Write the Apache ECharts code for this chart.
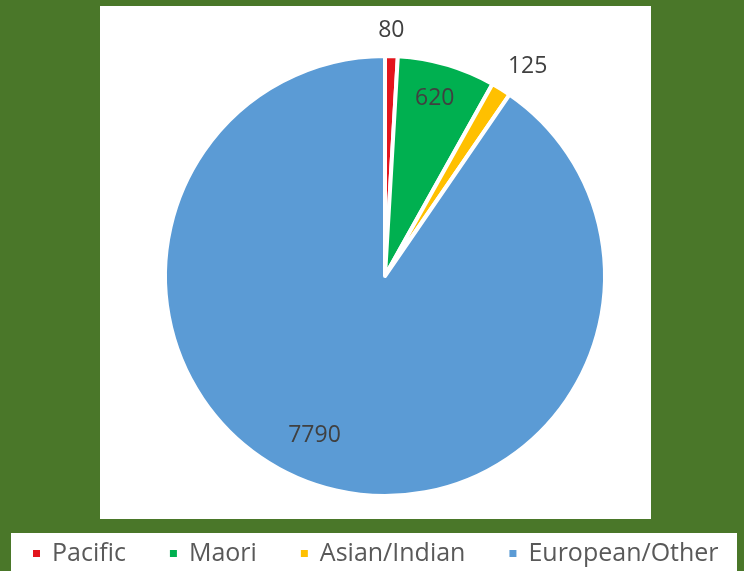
<!DOCTYPE html>
<html>
<head>
<meta charset="utf-8">
<script src="https://cdn.jsdelivr.net/npm/echarts@6/dist/echarts.min.js"></script>
<style>
	html, body {
		margin: 0;
		padding: 0;
		background: #4a7729;
	}

	#pie {
		width: 744px;
		height: 571px;
	}
</style>
</head>

<body>
	<div id="pie"></div>
</body>
<script>
	var groups = ['Pacific', 'Maori', 'Asian/Indian', 'European/Other'];
	var counts = [80, 620, 125, 7790];
	var colors = ['#e3151d', '#00b050', '#ffc000', '#5b9bd5'];

	// label nudges away from the mid-radius spot (Excel "best fit" look)
	var labelShift = [[3, -133], [18, -69], [83, -114], [-37, 52]];

	var pieData = groups.map(function (g, i) {
		return { name: g, value: counts[i], itemStyle: { color: colors[i] } };
	});

	var chart = echarts.init(document.getElementById('pie'), null, { renderer: 'canvas' });
	var option = {
		backgroundColor: '#4a7729',
		animation: false,
		graphic: [
			{ type: 'rect', z: -10, shape: { x: 100, y: 6, width: 551, height: 513 }, style: { fill: '#ffffff' } },
			{ type: 'rect', z: -10, shape: { x: 11, y: 533, width: 726, height: 40 }, style: { fill: '#ffffff' } }
		],
		legend: {
			data: groups,
			left: 26,
			top: 536,
			icon: 'rect',
			itemWidth: 9,
			itemHeight: 9,
			itemGap: 42,
			textStyle: {
				fontFamily: 'Open Sans',
				fontSize: 25,
				color: '#595959',
				padding: [0, 0, 0, 6]
			}
		},
		series: [
			{
				type: 'pie',
				center: [385, 276],
				radius: [0, 220],
				startAngle: 90,
				clockwise: true,
				data: pieData,
				itemStyle: {
					borderColor: '#ffffff',
					borderWidth: 4
				},
				label: {
					show: true,
					position: 'inside',
					formatter: '{c}',
					fontFamily: 'Open Sans',
					fontSize: 23,
					color: '#404040'
				},
				labelLine: { show: false },
				labelLayout: function (params) {
					var s = labelShift[params.dataIndex];
					return { dx: s[0], dy: s[1] };
				},
				emphasis: { disabled: true }
			}
		]
	};
	chart.setOption(option);
</script>

</html>
